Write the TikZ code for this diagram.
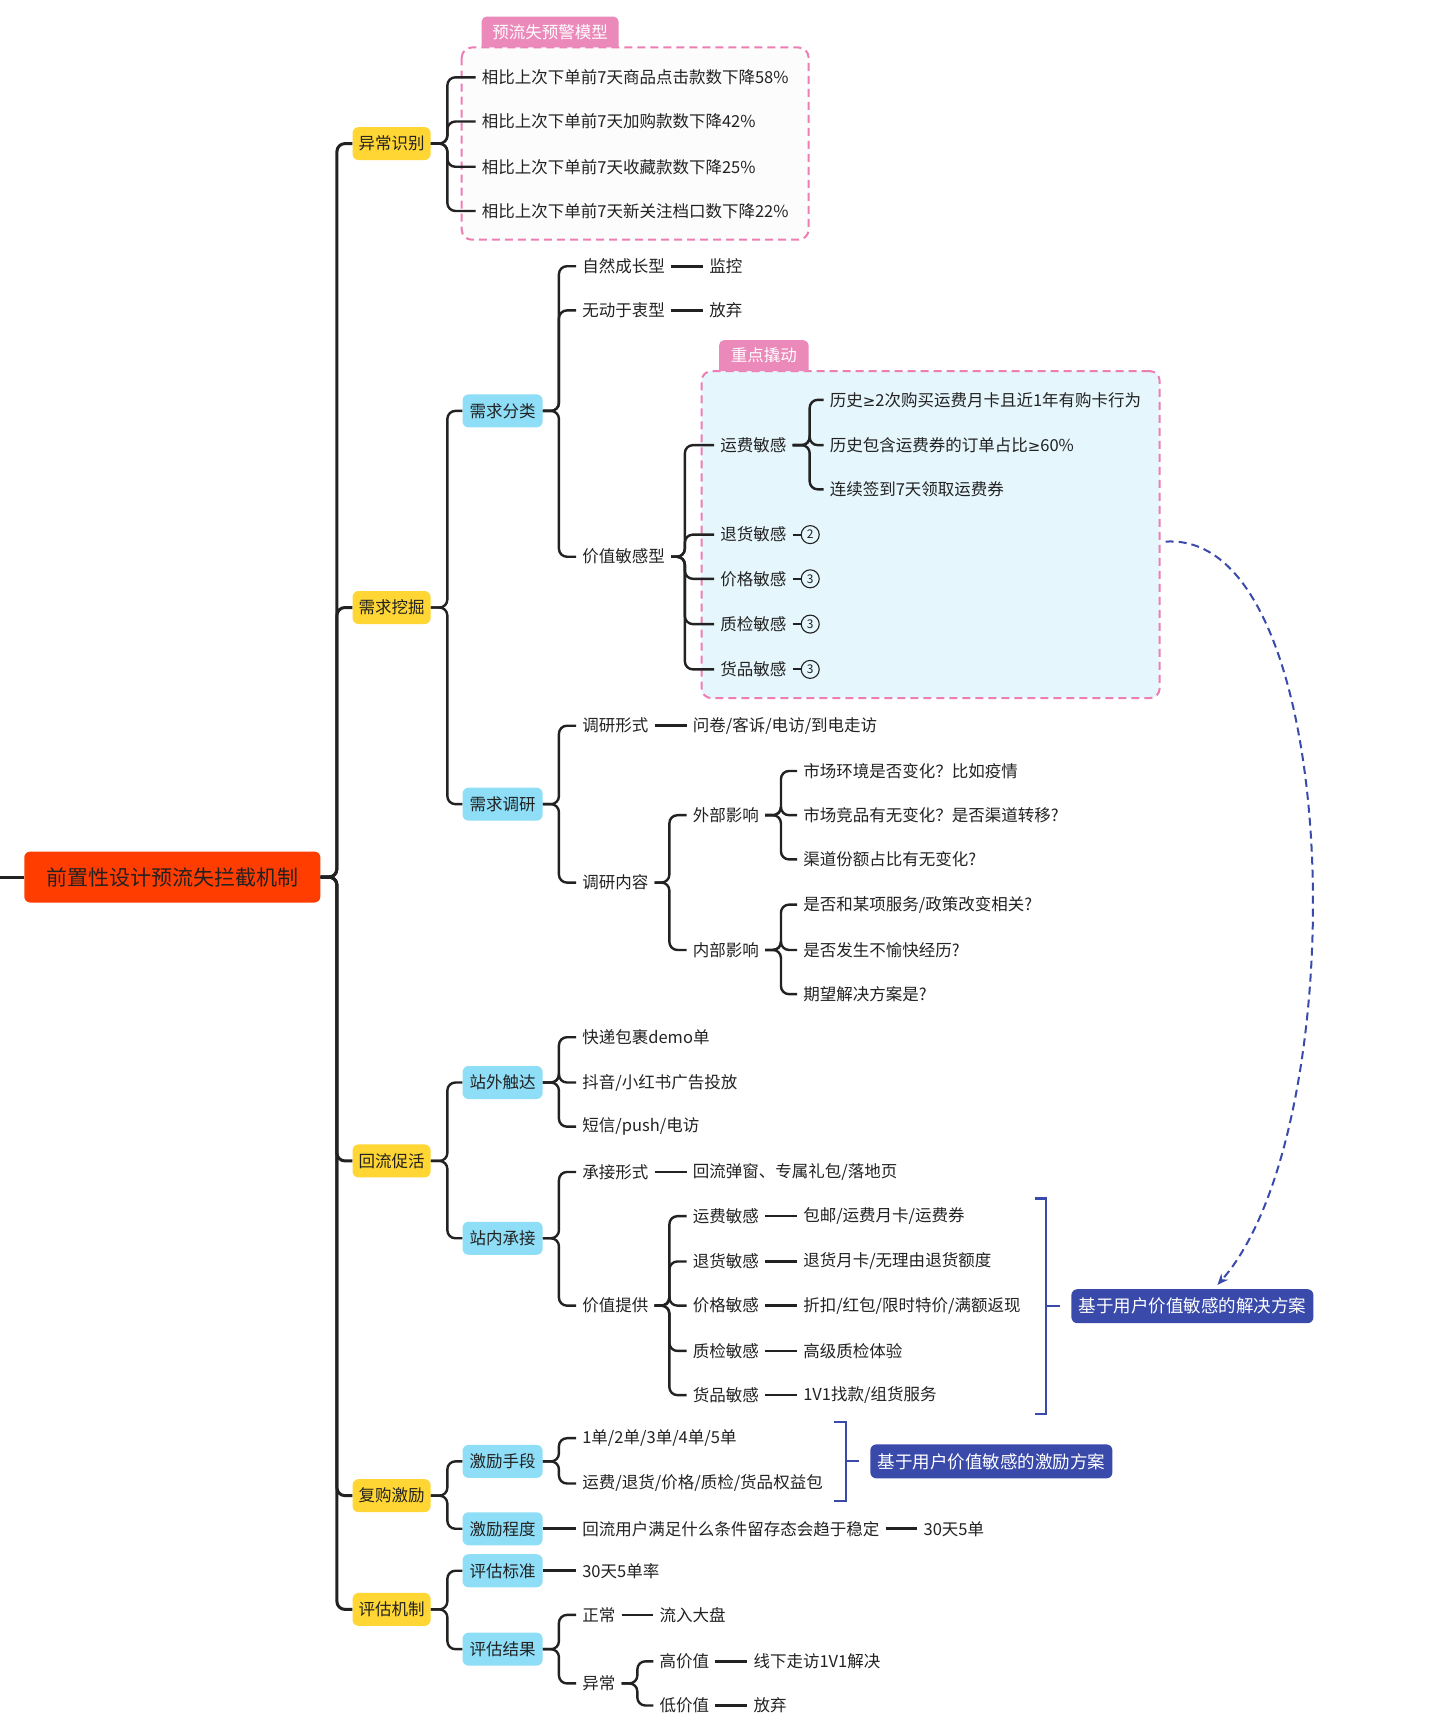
\documentclass[tikz,border=0pt]{standalone}
\usepackage{fontspec}
\setmainfont{Noto Sans CJK SC}
\newfontfamily\symf{DejaVu Sans}
\usetikzlibrary{arrows.meta}
\definecolor{rootred}{RGB}{255,61,0}
\definecolor{yel}{RGB}{255,214,51}
\definecolor{cyn}{RGB}{142,222,248}
\definecolor{tabpink}{RGB}{234,137,186}
\definecolor{dashpink}{RGB}{236,126,180}
\definecolor{lblue}{RGB}{229,246,252}
\definecolor{dblue}{RGB}{58,74,170}
\definecolor{ink}{RGB}{34,34,34}
\newcommand\fs{\fontsize{16.5pt}{20pt}\selectfont}
\newcommand\gesym{{\symf\fontsize{15pt}{18pt}\selectfont ≥}}
\newcommand\edg[4][edgeline]{\draw[#1] (#2.east) -- (#4,0 |- #2.east) |- (#3.west);}
\begin{document}
\begin{tikzpicture}[x=1.1043pt,y=-1.1043pt,
 txt/.style={anchor=west,xshift=-6pt,inner xsep=6pt,inner ysep=2pt,font=\fs,text=ink},
 rootbox/.style={fill=rootred,rounded corners=6pt,minimum width=296pt,minimum height=51pt,inner sep=0pt,font=\fontsize{21pt}{24pt}\selectfont,text=ink},
 lvone/.style={fill=yel,rounded corners=6pt,minimum width=78pt,minimum height=33pt,inner sep=0pt,font=\fs,text=ink},
 lvtwo/.style={lvone,fill=cyn,minimum width=80pt},
 solbox/.style={fill=dblue,rounded corners=6pt,minimum width=242pt,minimum height=34pt,inner sep=0pt,font=\fontsize{17.5pt}{20pt}\selectfont,text=white},
 tabtext/.style={font=\fs,text=white,inner sep=0pt},
 numc/.style={circle,draw=ink,line width=1.1pt,minimum size=18pt,inner sep=0pt,font=\fontsize{12pt}{13pt}\selectfont,text=ink},
 edgeline/.style={draw=ink,line width=2.4pt,rounded corners=8pt},
 trunkline/.style={edgeline,line width=3pt},
 linkline/.style={draw=ink,line width=2.6pt},
 brline/.style={draw=dblue,line width=2.2pt},
 pinkdash/.style={draw=dashpink,line width=2pt,dash pattern=on 8pt off 5pt,rounded corners=10pt},
]
\useasboundingbox (0,0) rectangle (1304,1568);
\fill[white] (0,0) rectangle (1304,1568);

% ---------- containers ----------
\draw[pinkdash,fill=black!1] (418,43) rectangle (732,217);
\fill[tabpink] (436,43) [rounded corners=5pt] -- (436,15) -- (560,15) [sharp corners] -- (560,43) -- cycle;
\node[tabtext] (tabA) at (498,29) {预流失预警模型};

\node[pinkdash,fill=lblue,minimum width=458pt,minimum height=327pt,inner sep=0pt] (focus) at (842.5,484) {};
\fill[tabpink] (651,336) [rounded corners=5pt] -- (651,308) -- (732,308) [sharp corners] -- (732,336) -- cycle;
\node[tabtext] (tabB) at (691.5,322) {重点撬动};

% ---------- root ----------
\node[rootbox] (root) at (156,794) {前置性设计预流失拦截机制};
\coordinate (stub) at (0,794);
\draw[trunkline] (stub) -- (root.west);

\node[lvone] (A) at (354.5,130) {异常识别};
\node[lvone] (B) at (354.5,550) {需求挖掘};
\node[lvone] (C) at (354.5,1051) {回流促活};
\node[lvone] (D) at (354.5,1354) {复购激励};
\node[lvone] (E) at (354.5,1457) {评估机制};
\edg[trunkline]{root}{A}{305}
\edg[trunkline]{root}{B}{305}
\edg[trunkline]{root}{C}{305}
\edg[trunkline]{root}{D}{305}
\edg[trunkline]{root}{E}{305}

% ---------- A ----------
\node[txt] (a1) at (436,70) {相比上次下单前7天商品点击款数下降58\%};
\node[txt] (a2) at (436,110) {相比上次下单前7天加购款数下降42\%};
\node[txt] (a3) at (436,151) {相比上次下单前7天收藏款数下降25\%};
\node[txt] (a4) at (436,191) {相比上次下单前7天新关注档口数下降22\%};
\edg{A}{a1}{405}
\edg{A}{a2}{405}
\edg{A}{a3}{405}
\edg{A}{a4}{405}

% ---------- B ----------
\node[lvtwo] (B1) at (455,372) {需求分类};
\node[lvtwo] (B2) at (455,728) {需求调研};
\edg{B}{B1}{405}
\edg{B}{B2}{405}

\node[txt] (b1) at (527,241) {自然成长型};
\node[txt] (b1r) at (642,241) {监控};
\node[txt] (b2) at (527,281) {无动于衷型};
\node[txt] (b2r) at (642,281) {放弃};
\node[txt] (b3) at (527,504) {价值敏感型};
\edg{B1}{b1}{506}
\edg{B1}{b2}{506}
\edg{B1}{b3}{506}
\draw[linkline] (b1.east) -- (b1r.west);
\draw[linkline] (b2.east) -- (b2r.west);

\node[txt] (v1) at (652,403) {运费敏感};
\node[txt] (v2) at (652,484) {退货敏感};
\node[txt] (v3) at (652,524) {价格敏感};
\node[txt] (v4) at (652,565) {质检敏感};
\node[txt] (v5) at (652,606) {货品敏感};
\edg{b3}{v1}{620}
\edg{b3}{v2}{620}
\edg{b3}{v3}{620}
\edg{b3}{v4}{620}
\edg{b3}{v5}{620}

\node[txt] (h1) at (751,362) {历史\gesym 2次购买运费月卡且近1年有购卡行为};
\node[txt] (h2) at (751,403) {历史包含运费券的订单占比\gesym 60\%};
\node[txt] (h3) at (751,443) {连续签到7天领取运费券};
\edg{v1}{h1}{733}
\edg{v1}{h2}{733}
\edg{v1}{h3}{733}

\node[numc] (n2) at (733.5,484) {2};
\node[numc] (n3) at (733.5,524) {3};
\node[numc] (n4) at (733.5,565) {3};
\node[numc] (n5) at (733.5,606) {3};
\draw[ink,line width=1.8pt] (v2.east) -- (n2.west);
\draw[ink,line width=1.8pt] (v3.east) -- (n3.west);
\draw[ink,line width=1.8pt] (v4.east) -- (n4.west);
\draw[ink,line width=1.8pt] (v5.east) -- (n5.west);

\node[txt] (r1) at (527,657) {调研形式};
\node[txt] (r1r) at (627,657) {问卷/客诉/电访/到电走访};
\node[txt] (r2) at (527,799) {调研内容};
\edg{B2}{r1}{506}
\edg{B2}{r2}{506}
\draw[linkline] (r1.east) -- (r1r.west);

\node[txt] (e1) at (627,738) {外部影响};
\node[txt] (e2) at (627,860) {内部影响};
\edg{r2}{e1}{606}
\edg{r2}{e2}{606}

\node[txt] (x1) at (727,698) {市场环境是否变化？比如疫情};
\node[txt] (x2) at (727,738) {市场竞品有无变化？是否渠道转移?};
\node[txt] (x3) at (727,778) {渠道份额占比有无变化?};
\edg{e1}{x1}{707}
\edg{e1}{x2}{707}
\edg{e1}{x3}{707}

\node[txt] (y1) at (727,819) {是否和某项服务/政策改变相关?};
\node[txt] (y2) at (727,860) {是否发生不愉快经历?};
\node[txt] (y3) at (727,900) {期望解决方案是?};
\edg{e2}{y1}{707}
\edg{e2}{y2}{707}
\edg{e2}{y3}{707}

% ---------- C ----------
\node[lvtwo] (C1) at (455,980) {站外触达};
\node[lvtwo] (C2) at (455,1121) {站内承接};
\edg{C}{C1}{405}
\edg{C}{C2}{405}

\node[txt] (c1) at (527,939) {快递包裹demo单};
\node[txt] (c2) at (527,980) {抖音/小红书广告投放};
\node[txt] (c3) at (527,1020) {短信/push/电访};
\edg{C1}{c1}{506}
\edg{C1}{c2}{506}
\edg{C1}{c3}{506}

\node[txt] (k1) at (527,1061) {承接形式};
\node[txt] (k1r) at (627,1061) {回流弹窗、专属礼包/落地页};
\node[txt] (k2) at (527,1182) {价值提供};
\edg{C2}{k1}{506}
\edg{C2}{k2}{506}
\draw[linkline] (k1.east) -- (k1r.west);

\node[txt] (p1) at (627,1101) {运费敏感};
\node[txt] (p2) at (627,1142) {退货敏感};
\node[txt] (p3) at (627,1182) {价格敏感};
\node[txt] (p4) at (627,1223) {质检敏感};
\node[txt] (p5) at (627,1263) {货品敏感};
\edg{k2}{p1}{606}
\edg{k2}{p2}{606}
\edg{k2}{p3}{606}
\edg{k2}{p4}{606}
\edg{k2}{p5}{606}

\node[txt] (q1) at (727,1101) {包邮/运费月卡/运费券};
\node[txt] (q2) at (727,1142) {退货月卡/无理由退货额度};
\node[txt] (q3) at (727,1182) {折扣/红包/限时特价/满额返现};
\node[txt] (q4) at (727,1223) {高级质检体验};
\node[txt] (q5) at (727,1263) {1V1找款/组货服务};
\draw[linkline] (p1.east) -- (q1.west);
\draw[linkline] (p2.east) -- (q2.west);
\draw[linkline] (p3.east) -- (q3.west);
\draw[linkline] (p4.east) -- (q4.west);
\draw[linkline] (p5.east) -- (q5.west);

\draw[brline] (937,1085) -- (947,1085) -- (947,1280) -- (937,1280);
\node[solbox] (sol) at (1079.5,1182.5) {基于用户价值敏感的解决方案};
\coordinate (brA) at (947,1182.5);
\draw[brline] (brA) -- ([xshift=-11pt]sol.west);

% ---------- D ----------
\node[lvtwo] (D1) at (455,1323) {激励手段};
\node[lvtwo] (D2) at (455,1384) {激励程度};
\edg{D}{D1}{405}
\edg{D}{D2}{405}

\node[txt] (d1) at (527,1302) {1单/2单/3单/4单/5单};
\node[txt] (d2) at (527,1343) {运费/退货/价格/质检/货品权益包};
\edg{D1}{d1}{506}
\edg{D1}{d2}{506}

\draw[brline] (755,1287) -- (766,1287) -- (766,1359) -- (755,1359);
\node[solbox] (inc) at (897.5,1323) {基于用户价值敏感的激励方案};
\coordinate (brB) at (766,1323);
\draw[brline] (brB) -- ([xshift=-11pt]inc.west);

\node[txt] (d3) at (527,1384) {回流用户满足什么条件留存态会趋于稳定};
\node[txt] (d3r) at (836,1384) {30天5单};
\draw[linkline] (D2.east) -- (d3.west);
\draw[linkline] (d3.east) -- (d3r.west);

% ---------- E ----------
\node[lvtwo] (E1) at (455,1422) {评估标准};
\node[lvtwo] (E2) at (455,1493) {评估结果};
\edg{E}{E1}{405}
\edg{E}{E2}{405}

\node[txt] (f1) at (527,1422) {30天5单率};
\draw[linkline] (E1.east) -- (f1.west);

\node[txt] (g1) at (527,1462) {正常};
\node[txt] (g1r) at (597,1462) {流入大盘};
\node[txt] (g2) at (527,1524) {异常};
\edg{E2}{g1}{506}
\edg{E2}{g2}{506}
\draw[linkline] (g1.east) -- (g1r.west);

\node[txt] (w1) at (597,1504) {高价值};
\node[txt] (w1r) at (682,1504) {线下走访1V1解决};
\node[txt] (w2) at (597,1544) {低价值};
\node[txt] (w2r) at (682,1544) {放弃};
\edg{g2}{w1}{577}
\edg{g2}{w2}{577}
\draw[linkline] (w1.east) -- (w1r.west);
\draw[linkline] (w2.east) -- (w2r.west);

% ---------- dashed arrow ----------
\draw[dblue,line width=2pt,dash pattern=on 8pt off 5pt,-{Stealth[length=11pt,width=9pt]}]
  ([xshift=5pt,yshift=-7pt]focus.east) .. controls (1218,480) and (1228,1020) .. ([xshift=25pt,yshift=4pt]sol.north);
\end{tikzpicture}
\end{document}
